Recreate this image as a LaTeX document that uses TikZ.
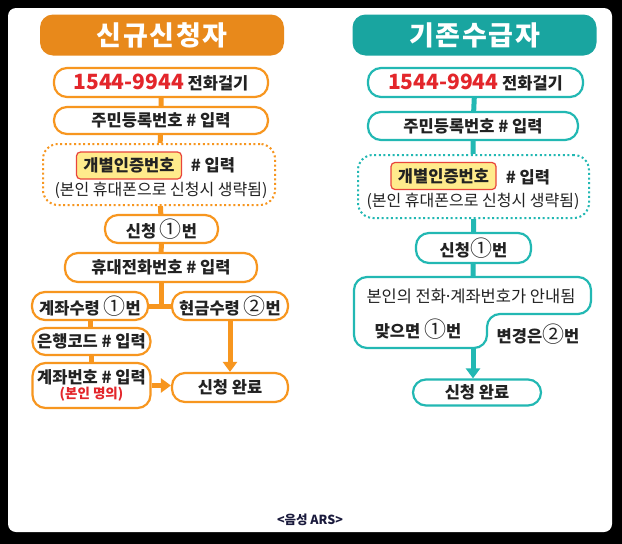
\documentclass[tikz,border=0pt]{standalone}
\usepackage{fontspec}
\setmainfont{Noto Sans CJK KR}
\newfontfamily\medfont{Noto Sans CJK KR Medium}
\usepackage{xcolor}
\usetikzlibrary{positioning, arrows.meta, backgrounds}
\definecolor{hdrorange}{HTML}{E8891B}
\definecolor{lineorange}{HTML}{F7961F}
\definecolor{hdrteal}{HTML}{19A5A0}
\definecolor{lineteal}{HTML}{22B8B3}
\definecolor{numred}{HTML}{E3262B}
\definecolor{certyellow}{HTML}{FFEB8C}
\definecolor{certborder}{HTML}{E8453C}
\definecolor{textdark}{HTML}{222222}
\definecolor{footnavy}{HTML}{1A1A3C}
\newcommand{\cnum}[1]{{\mdseries\fontsize{22}{22}\selectfont #1}}
\newcommand{\telnum}{{\color{numred}\medfont\fontsize{21}{22}\selectfont 1544-9944}}
\tikzset{
  hdrbox/.style={fill=#1, rounded corners=13pt, text=white, inner sep=0pt,
    font=\bfseries\fontsize{27}{30}\selectfont\addfontfeatures{LetterSpace=6},
    minimum width=244pt, minimum height=41pt},
  pill/.style={draw=#1, line width=2.2pt, fill=white, rounded corners=13pt,
    inner sep=0pt, text=textdark, align=center,
    font=\bfseries\fontsize{16.5}{19}\selectfont},
  pill/.default=lineorange,
  dotbox/.style={draw=#1, line width=2pt, dash pattern=on 2pt off 2.6pt,
    fill=white, rounded corners=15pt, inner sep=0pt},
  certbox/.style={draw=certborder, line width=1.2pt, fill=certyellow,
    rounded corners=4pt, inner sep=0pt, text=textdark,
    font=\bfseries\fontsize{16.5}{19}\selectfont,
    minimum width=105pt, minimum height=27pt},
  plain/.style={text=textdark, inner sep=0pt, font=\bfseries\fontsize{16.5}{19}\selectfont},
  note/.style={text=textdark, inner sep=0pt, font=\fontsize{16}{18}\selectfont},
  link/.style={draw=#1, line width=5pt},
  flow/.style={draw=#1, line width=5pt, -{Triangle[width=14pt,length=10pt]}},
}

\begin{document}
\begin{tikzpicture}[x=1pt, y=-1pt]
  \useasboundingbox (0,0) rectangle (622,544);

  % left: new applicants
  \node[hdrbox=hdrorange] (hdrL) at (162,35) {신규신청자};
  \node[pill, minimum width=214pt, minimum height=29pt] (telL) at (161,82.5) {\telnum{} 전화걸기};
  \node[pill, minimum width=214pt, minimum height=27pt] (idL) at (161,120.5) {주민등록번호 \# 입력};
  \node[dotbox=lineorange, minimum width=232pt, minimum height=61pt] (authL) at (159,174.5) {};
  \node[certbox] (certL) at (129,165.5) {개별인증번호};
  \node[plain] (certinL) at (213,165.5) {\# 입력};
  \node[note] (skipL) at (161,190.5) {(본인 휴대폰으로 신청시 생략됨)};
  \node[pill, minimum width=113pt, minimum height=28pt] (reqL) at (161.5,229) {신청 \cnum{①}번};
  \node[pill, minimum width=192pt, minimum height=29pt] (phoneL) at (161,267.5) {휴대전화번호 \# 입력};
  \node[pill, minimum width=116pt, minimum height=28pt] (acctL) at (90,306) {계좌수령 \cnum{①}번};
  \node[pill, minimum width=116pt, minimum height=28pt] (cashL) at (230,306) {현금수령 \cnum{②}번};
  \node[pill, minimum width=118pt, minimum height=27pt] (bankL) at (91.5,341.5) {은행코드 \# 입력};
  \node[pill, minimum width=118pt, minimum height=45pt] (numL) at (91.5,385.5)
    {계좌번호 \# 입력\\[-4pt]{\color{numred}\fontsize{13.5}{15}\selectfont (본인 명의)}};
  \node[pill, minimum width=116pt, minimum height=29pt] (doneL) at (230,387.5) {신청 완료};

  % right: existing recipients
  \node[hdrbox=hdrteal] (hdrR) at (474.5,35) {기존수급자};
  \node[pill=lineteal, minimum width=215pt, minimum height=29pt] (telR) at (475.5,82.5) {\telnum{} 전화걸기};
  \node[pill=lineteal, minimum width=210pt, minimum height=28pt] (idR) at (473,126) {주민등록번호 \# 입력};
  \node[dotbox=lineteal, minimum width=231pt, minimum height=63pt] (authR) at (473.5,186.5) {};
  \node[certbox] (certR) at (443.5,176) {개별인증번호};
  \node[plain] (certinR) at (528,177) {\# 입력};
  \node[note] (skipR) at (473,201) {(본인 휴대폰으로 신청시 생략됨)};
  \node[pill=lineteal, minimum width=115pt, minimum height=30pt] (reqR) at (473.5,248) {신청\cnum{①}번};
  \draw[draw=lineteal, line width=2.2pt, fill=white, rounded corners=13pt]
    (354,348) -- (354,277) -- (591,277) -- (591,314) -- (487,314) -- (487,348) -- cycle;
  \coordinate (guidetop) at (473,277);
  \coordinate (guidebot) at (473,348);
  \node[note, font=\fontsize{16.5}{19}\selectfont] (guideR) at (471,296)
    {본인의 전화\kern-2.5pt·\kern-2.5pt계좌번호가 안내됨};
  \node[plain] (okR) at (418,329) {맞으면 \cnum{①}번};
  \node[plain] (chgR) at (538,334) {변경은\cnum{②}번};
  \node[pill=lineteal, minimum width=128pt, minimum height=26pt] (doneR) at (477,392.5) {신청 완료};

  \node[text=footnavy, font=\bfseries\fontsize{12.5}{15}\selectfont] (foot) at (310,520) {<음성 ARS>};

  \begin{scope}[on background layer]
    \fill[black] (0,0) rectangle (622,544);
    \fill[white, rounded corners=8pt] (8,8) rectangle (612,532);
    \path[link=lineorange] (telL) -- (idL) (idL) -- (authL) (authL) -- (reqL) (reqL) -- (phoneL);
    \path[link=lineorange] (phoneL) -- (phoneL |- acctL) (acctL) -- (cashL);
    \path[link=lineorange] (acctL) -- (acctL |- bankL) (bankL) -- (bankL |- numL);
    \path[link=lineteal] (475,82) -- (idR) (idR) -- (authR) (authR) -- (reqR) (reqR) -- (guidetop);
  \end{scope}
  \path[flow=lineorange] (cashL) -- (doneL);
  \path[flow=lineorange] (numL.east) -- (numL.east -| doneL.west);
  \path[flow=lineteal] (guidebot) -- (guidebot |- doneR.north);
\end{tikzpicture}
\end{document}
